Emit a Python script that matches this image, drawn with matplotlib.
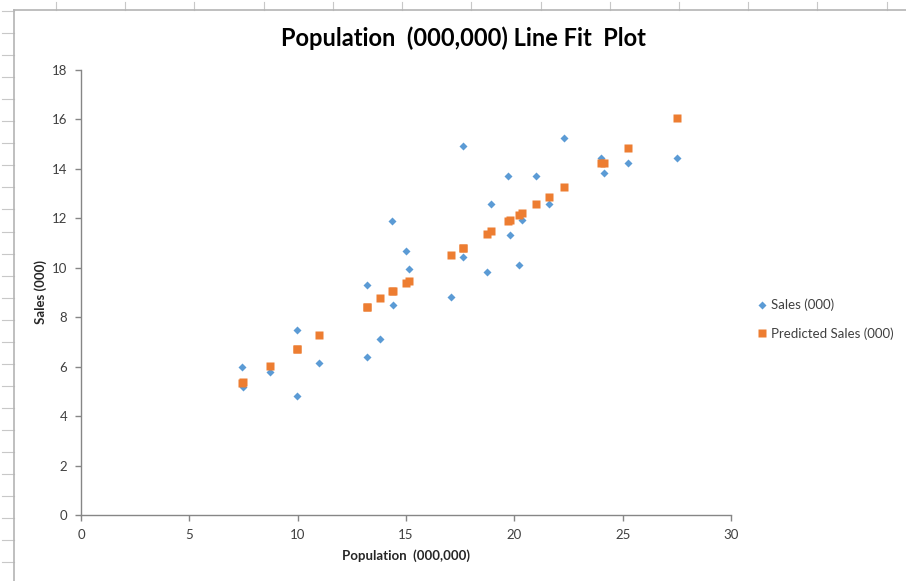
import matplotlib.pyplot as plt
from matplotlib.lines import Line2D

population = [7.43, 7.49, 8.72, 9.98, 9.98, 10.98, 13.18, 13.22, 13.82, 14.40,
              14.37, 14.98, 15.12, 17.07, 17.64, 17.62, 18.72, 18.92, 19.70, 19.81,
              20.21, 20.37, 21.01, 21.61, 22.30, 24.00, 24.15, 25.26, 27.50]
sales = [6.00, 5.17, 5.80, 7.50, 4.81, 6.13, 6.40, 9.29, 7.10, 8.50,
         11.88, 10.69, 9.95, 8.82, 14.92, 10.44, 9.82, 12.58, 13.73, 11.31,
         10.13, 11.93, 13.73, 12.58, 15.26, 14.43, 13.82, 14.25, 14.43]
predicted = [5.34, 5.37, 6.02, 6.71, 6.71, 7.27, 8.41, 8.43, 8.77, 9.07,
             9.06, 9.39, 9.47, 10.52, 10.79, 10.78, 11.35, 11.49, 11.89, 11.93,
             12.14, 12.23, 12.58, 12.88, 13.28, 14.23, 14.25, 14.86, 16.05]

x_ticks = [0, 5, 10, 15, 20, 25, 30]
y_ticks = [0, 2, 4, 6, 8, 10, 12, 14, 16, 18]

plt.rcParams['font.family'] = ['Lato', 'DejaVu Sans']

W, H = 906, 581
fig = plt.figure(figsize=(W / 100, H / 100), dpi=100)

# worksheet gridline stubs and chart-area border behind the plot
grey = '#c8c8c8'
for i in range(13):
    x = (56 + 69.22 * i) / W
    fig.add_artist(Line2D([x, x], [1 - 2 / H, 1 - 10 / H], color=grey, lw=0.8))
for i in range(26):
    y = 1 - (11 + 22.05 * i) / H
    fig.add_artist(Line2D([2 / W, 14 / W], [y, y], color=grey, lw=0.8))
fig.add_artist(Line2D([14 / W, 1], [1 - 10 / H, 1 - 10 / H], color='#b4b4b4', lw=1.2))
fig.add_artist(Line2D([14 / W, 14 / W], [0, 1 - 10 / H], color='#b4b4b4', lw=1.2))

ax = fig.add_axes([81 / W, 1 - 515 / H, 650 / W, 445 / H])
ax.plot(population, sales, 'D', color='#5b9bd5', ms=4.2, mec='none',
        label='Sales (000)')
ax.plot(population, predicted, 's', color='#ed7d31', ms=5.4, mec='none',
        label='Predicted Sales (000)')

ax.set_xlim(0, 30)
ax.set_ylim(0, 18)
ax.set_xticks(x_ticks)
ax.set_yticks(y_ticks)
for side in ('top', 'right'):
    ax.spines[side].set_visible(False)
for side in ('left', 'bottom'):
    ax.spines[side].set_color('#868686')
    ax.spines[side].set_linewidth(1.0)
ax.tick_params(colors='#868686', labelcolor='#404040', labelsize=9.5,
               length=4, width=1.0, pad=6)

ax.set_xlabel('Population  (000,000)', fontsize=9.5, fontweight='bold',
              color='#262626', labelpad=6)
ax.set_ylabel('Sales (000)', fontsize=9.5, fontweight='bold',
              color='#262626', labelpad=3)
fig.text(463 / W, 1 - 38 / H, 'Population  (000,000) Line Fit  Plot',
         ha='center', va='center', fontsize=17, fontweight='bold', color='black')

ax.legend(loc='center left', bbox_to_anchor=(1.018, 0.44), frameon=False,
          fontsize=9.5, handletextpad=0.05, labelspacing=1.2, handlelength=1.2,
          labelcolor='#404040')

fig.savefig('out.png', dpi=100)
